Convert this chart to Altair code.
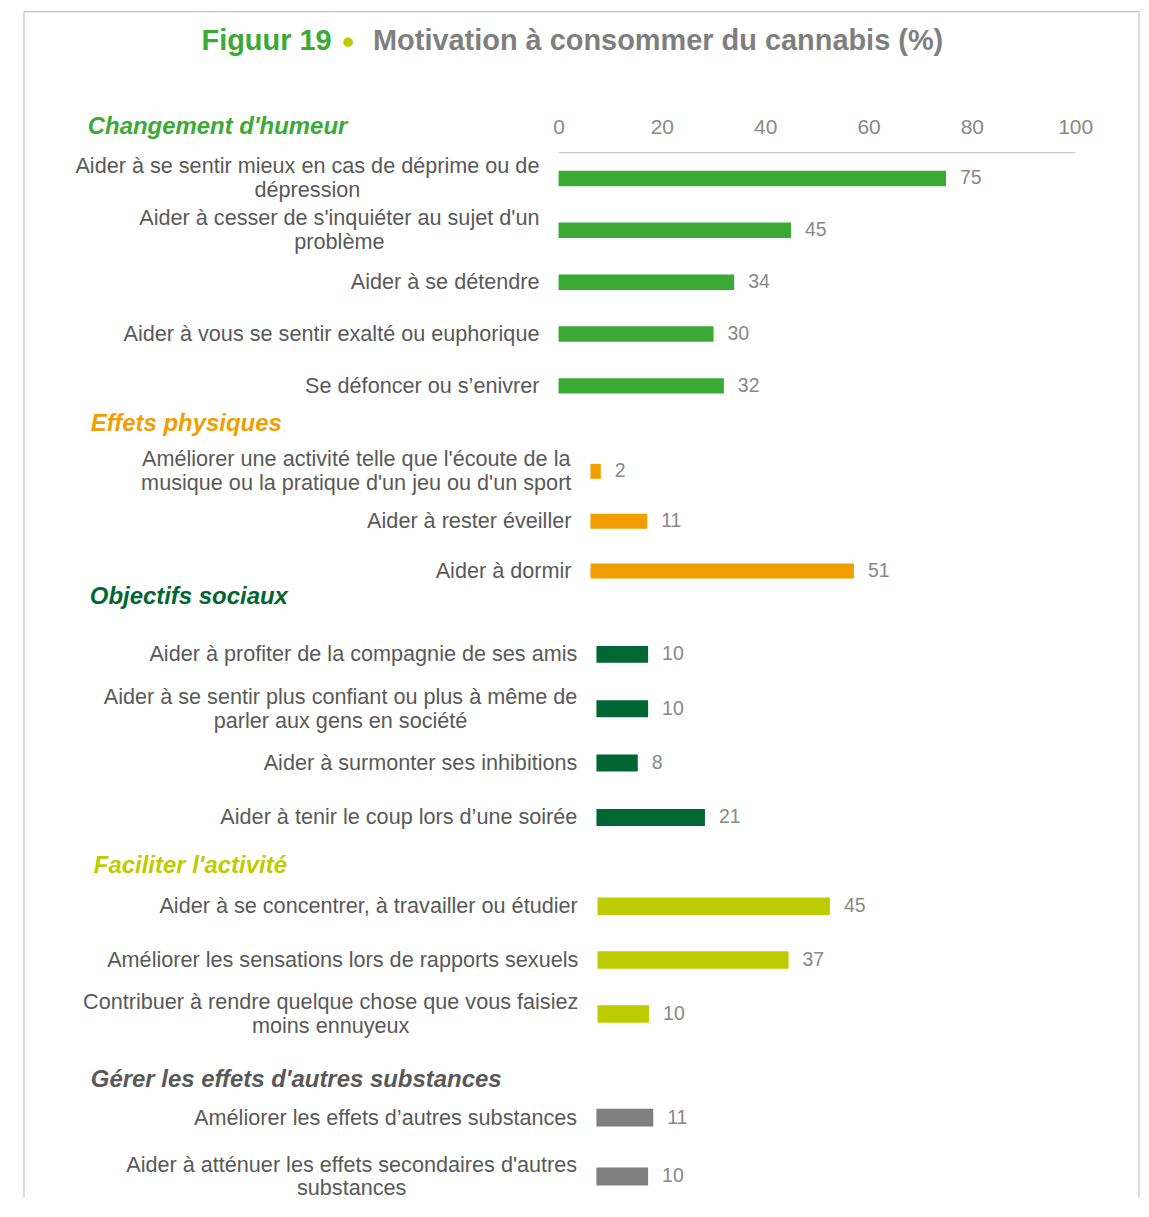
import altair as alt
import pandas as pd

# ---------------- data ----------------
TITLE_FIG = "Figuur 19"
TITLE_DOT = "•"
TITLE_MAIN = "Motivation à consommer du cannabis (%)"

groups = [
    "Changement d'humeur",
    "Effets physiques",
    "Objectifs sociaux",
    "Faciliter l'activité",
    "Gérer les effets d'autres substances",
]

labels_humeur = [
    "Aider à se sentir mieux en cas de déprime ou de\ndépression",
    "Aider à cesser de s'inquiéter au sujet d'un\nproblème",
    "Aider à se détendre",
    "Aider à vous se sentir exalté ou euphorique",
    "Se défoncer ou s’enivrer",
]
values_humeur = [75, 45, 34, 30, 32]

labels_physique = [
    "Améliorer une activité telle que l'écoute de la\nmusique ou la pratique d'un jeu ou d'un sport",
    "Aider à rester éveiller",
    "Aider à dormir",
]
values_physique = [2, 11, 51]

labels_social = [
    "Aider à profiter de la compagnie de ses amis",
    "Aider à se sentir plus confiant ou plus à même de\nparler aux gens en société",
    "Aider à surmonter ses inhibitions",
    "Aider à tenir le coup lors d’une soirée",
]
values_social = [10, 10, 8, 21]

labels_activite = [
    "Aider à se concentrer, à travailler ou étudier",
    "Améliorer les sensations lors de rapports sexuels",
    "Contribuer à rendre quelque chose que vous faisiez\nmoins ennuyeux",
]
values_activite = [45, 37, 10]

labels_substances = [
    "Améliorer les effets d’autres substances",
    "Aider à atténuer les effets secondaires d'autres\nsubstances",
]
values_substances = [11, 10]

x_ticks = [0, 20, 40, 60, 80, 100]

group_labels = [labels_humeur, labels_physique, labels_social, labels_activite, labels_substances]
group_values = [values_humeur, values_physique, values_social, values_activite, values_substances]

# ---------------- style ----------------
FONT = "Liberation Sans"
bar_colors = ["#3aaa35", "#f29e00", "#006633", "#bdcc00", "#7f7f7f"]
header_colors = ["#3aaa35", "#f29e00", "#006633", "#bdcc00", "#595959"]
LABEL_COLOR = "#595959"
NUM_COLOR = "#888888"
FRAME_COLOR = "#c4c4c4"

W = 518            # plot width for 0..100
PX = W / 100.0     # pixels per percent
GAP = 19           # gap between label block and bar start
LABEL_SIZE = 21.7
LINE_H = 24

# Arial / Liberation Sans advance widths (1/1000 em) used to centre multi-line labels
AW = {" ": 278, "'": 191, "’": 222, ",": 278,
      "a": 556, "b": 556, "c": 500, "d": 556, "e": 556, "f": 278, "g": 556, "h": 556,
      "i": 222, "j": 222, "k": 500, "l": 222, "m": 833, "n": 556, "o": 556, "p": 556,
      "q": 556, "r": 333, "s": 500, "t": 278, "u": 556, "v": 500, "w": 722, "x": 500,
      "y": 500, "z": 500, "A": 667, "C": 722, "S": 667,
      "é": 556, "è": 556, "ê": 556, "à": 556}


def text_w(s, size):
    return sum(AW.get(ch, 556) for ch in s) * size / 1000.0


# panel geometry (page pixels): top, bottom, first row centre, row step, bar thickness,
# bar start x, header x, header centre y
ORIGIN_X, ORIGIN_Y = 558, 152
FRAME_TOP = 11
layout = [
    dict(top=152, bottom=439, c1=178.3, step=52.0, bar=15.5, start=558, hx=86, hy=127),
    dict(top=439, bottom=612, c1=472.0, step=50.0, bar=15.0, start=590, hx=89, hy=425),
    dict(top=612, bottom=882, c1=655.5, step=54.5, bar=17.0, start=596, hx=88, hy=598),
    dict(top=882, bottom=1096, c1=908.0, step=54.0, bar=17.5, start=597, hx=92, hy=868),
    dict(top=1096, bottom=1200, c1=1120.0, step=59.0, bar=18.0, start=596, hx=89, hy=1082),
]


def band(L, n):
    H = L["bottom"] - L["top"]
    p = 1 - L["bar"] / L["step"]
    o = (H / L["step"] - n + p) / 2
    free = H - L["step"] * (n - p)
    a = ((L["c1"] - L["top"]) - L["bar"] / 2) / free
    return H, alt.Scale(paddingInner=p, paddingOuter=o, align=a)


panels = []
for k, (name, labels, values) in enumerate(zip(groups, group_labels, group_values)):
    L = layout[k]
    H, yscale = band(L, len(labels))
    off = (L["start"] - ORIGIN_X) / PX
    xscale = alt.Scale(domain=[-off, 100 - off], nice=False, zero=False)

    df = pd.DataFrame({"label": labels, "value": values})
    df["lines"] = [lab.count("\n") + 1 for lab in labels]
    df["lx"] = [-(GAP + max(text_w(line, LABEL_SIZE) for line in lab.split("\n")) / 2) / PX
                for lab in labels]

    base = alt.Chart(df)
    y = alt.Y("label:N", sort=labels, scale=yscale, axis=None)

    if k == 0:
        xaxis = alt.Axis(orient="top", values=x_ticks, title=None, grid=False, ticks=False,
                         tickSize=0, labelPadding=25, labelBaseline="middle", labelFlush=False,
                         labelFontSize=21, labelColor=NUM_COLOR, labelFont=FONT,
                         domainColor="#bfbfbf", domainWidth=1, format="d")
    else:
        xaxis = None

    bars = base.mark_bar(color=bar_colors[k]).encode(
        x=alt.X("value:Q", scale=xscale, axis=xaxis), y=y)
    nums = base.mark_text(align="left", baseline="middle", dx=14, fontSize=19.5,
                          color=NUM_COLOR, font=FONT).encode(
        x=alt.X("value:Q", scale=xscale, axis=xaxis), y=y, text="value:Q")
    labs1 = base.transform_filter("datum.lines == 1").mark_text(
        align="center", baseline="middle", fontSize=LABEL_SIZE, color=LABEL_COLOR, font=FONT
    ).encode(x=alt.X("lx:Q", scale=xscale, axis=xaxis), y=y, text="label:N")
    labs2 = base.transform_filter("datum.lines == 2").mark_text(
        align="center", baseline="middle", lineBreak="\n", lineHeight=LINE_H, dy=-LINE_H / 2,
        fontSize=LABEL_SIZE, color=LABEL_COLOR, font=FONT
    ).encode(x=alt.X("lx:Q", scale=xscale, axis=xaxis), y=y, text="label:N")

    layers = [bars, nums, labs1, labs2]

    if k == 0:
        one = pd.DataFrame({"t": [TITLE_FIG], "d": [TITLE_DOT], "m": [TITLE_MAIN]})
        tb = alt.Chart(one)
        ty = 41 - ORIGIN_Y
        layers.append(tb.mark_text(align="left", baseline="middle", fontSize=29, fontWeight="bold",
                                   color="#3aaa35", font=FONT).encode(
            x=alt.value(200 - ORIGIN_X), y=alt.value(ty), text="t:N"))
        layers.append(tb.mark_text(align="center", baseline="middle", fontSize=34, fontWeight="bold",
                                   color="#bdcc00", font=FONT).encode(
            x=alt.value(347 - ORIGIN_X), y=alt.value(ty + 2), text="d:N"))
        layers.append(tb.mark_text(align="left", baseline="middle", fontSize=29, fontWeight="bold",
                                   color="#7f7f7f", font=FONT).encode(
            x=alt.value(372 - ORIGIN_X), y=alt.value(ty), text="m:N"))
        # frame around the figure
        fl, fr, ft, fb = 22 - ORIGIN_X, 1140 - ORIGIN_X, FRAME_TOP - ORIGIN_Y, 1200 - ORIGIN_Y
        layers.append(tb.mark_rule(color=FRAME_COLOR, strokeWidth=1.2).encode(
            x=alt.value(fl), y=alt.value(ft), y2=alt.value(fb)))
        layers.append(tb.mark_rule(color=FRAME_COLOR, strokeWidth=1.2).encode(
            x=alt.value(fr), y=alt.value(ft), y2=alt.value(fb)))
        layers.append(tb.mark_rule(color=FRAME_COLOR, strokeWidth=1.2).encode(
            x=alt.value(fl), x2=alt.value(fr), y=alt.value(ft)))
        # the title is placed from the top of this panel's content (the frame line)
        h_offset = (FRAME_TOP - ORIGIN_Y) - ((L["hy"] - ORIGIN_Y) + 12)
    else:
        h_offset = (L["top"] - L["hy"]) - 12

    header = alt.Title(name, anchor="start", frame="group", orient="top",
                       dx=L["hx"] - ORIGIN_X, offset=h_offset, fontSize=24,
                       fontWeight="bold", fontStyle="italic", color=header_colors[k], font=FONT)

    panels.append(alt.layer(*layers).properties(width=W, height=H, title=header))

chart = alt.vconcat(*panels, spacing=0, bounds="flush").properties(
    padding={"left": 14, "top": 0, "right": 0, "bottom": 0}
).configure(font=FONT).configure_view(stroke="transparent")

chart.save("out.html", embed_options={"renderer": "svg", "actions": False})
